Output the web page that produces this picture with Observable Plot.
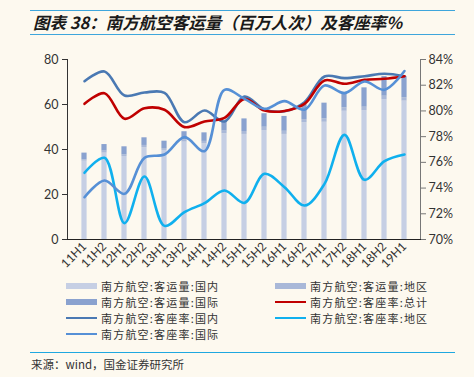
<!DOCTYPE html>
<html><head><meta charset="utf-8">
<script src="https://cdn.jsdelivr.net/npm/d3@7"></script>
<script src="https://cdn.jsdelivr.net/npm/@observablehq/plot@0.6"></script>
<style>
html,body{margin:0;padding:0;background:#fdf9ef;}
#wrap{position:relative;width:474px;height:377px;background:#fdf9ef;font-family:"Noto Sans CJK SC",sans-serif;overflow:hidden;color:#333;}
.hline{position:absolute;left:30px;width:425px;height:0;border-top:1.5px solid #3ea6dc;}
#title{position:absolute;left:33px;top:10px;font-size:16.5px;font-weight:bold;font-style:italic;color:#1a1a1a;line-height:24px;white-space:nowrap;}
#chart{position:absolute;left:0;top:40px;}
#legend{position:absolute;left:0;top:279px;width:474px;}
.li{position:absolute;font-size:11px;letter-spacing:1.2px;line-height:14px;height:14px;white-space:nowrap;color:#333;}
.sw{position:absolute;left:0;width:31px;}
#src{position:absolute;left:31px;top:356px;font-size:11.5px;color:#333;white-space:nowrap;}
</style></head>
<body>
<div id="wrap">
  <div class="hline" style="top:10px"></div>
  <div id="title">图表 38：南方航空客运量（百万人次）及客座率%</div>
  <div class="hline" style="top:34px"></div>
  <div id="chart"></div>
  <div id="legend"></div>
  <div class="hline" style="top:352px;border-top-color:#1fa8e0"></div>
  <div id="src">来源：wind，国金证券研究所</div>
</div>
<script>
const categories = ["11H1","11H2","12H1","12H2","13H1","13H2","14H1","14H2","15H1","15H2","16H1","16H2","17H1","17H2","18H1","18H2","19H1"];
// passengers (million)
const domestic      = [34.8,38.4,36.9,40.8,39.6,43.3,42.5,47.0,46.7,48.4,46.7,51.9,52.1,57.0,57.3,62.2,61.5];
const regional      = [0.6,0.9,0.7,1.0,0.8,1.0,1.1,1.2,1.3,1.5,1.4,1.4,1.5,1.5,1.5,1.5,1.5];
const international = [3.0,2.9,3.6,3.4,3.3,3.6,3.8,4.4,5.6,6.0,6.6,6.6,7.0,7.0,8.6,8.7,9.4];
// load factors (%)
const rateTotal    = [80.55,81.38,79.39,80.21,80.09,78.74,79.18,79.46,80.94,80.03,80.00,80.55,82.37,82.11,82.42,82.50,82.70];
const rateDomestic = [82.31,83.07,81.20,81.43,81.41,79.12,80.03,79.18,81.12,80.10,79.98,80.68,82.68,82.55,82.70,82.89,82.70];
const rateRegional = [75.19,76.35,71.27,74.90,71.06,72.13,72.83,73.81,72.85,75.11,74.07,72.64,74.33,78.14,74.64,76.09,76.61];
const rateIntl     = [73.29,74.59,73.55,76.35,76.61,77.96,76.87,81.64,80.94,80.16,80.76,80.10,81.98,81.38,82.29,81.64,83.10];
const leftTicks  = [0,20,40,60,80];
const rightTicks = [70,72,74,76,78,80,82,84];
const seriesNames = ["南方航空:客运量:国内","南方航空:客运量:地区","南方航空:客运量:国际","南方航空:客座率:总计","南方航空:客座率:国内","南方航空:客座率:地区","南方航空:客座率:国际"];

const barColors = ["#c6cfe4","#a9b8d8","#8aa2cf"];
const lineColors = {total:"#c00000", dom:"#4a79b3", reg:"#10b0ee", intl:"#5690d6"};

const toLeft = p => (p - 70) / 14 * 80;

const rows = [];
categories.forEach((c,i)=>{
  rows.push({cat:c, type:"国内", value:domestic[i]});
  rows.push({cat:c, type:"地区", value:regional[i]});
  rows.push({cat:c, type:"国际", value:international[i]});
});

function lineMark(arr, color){
  return Plot.line(categories, {x: d=>d, y: (d,i)=>toLeft(arr[i]), stroke: color, strokeWidth: 2.6, curve: "catmull-rom"});
}

const plot = Plot.plot({
  width: 474, height: 239,
  marginTop: 19, marginBottom: 40, marginLeft: 67, marginRight: 54,
  style: {background: "transparent", fontFamily: "Lato, 'Noto Sans', sans-serif", fontSize: "12px", color: "#333"},
  x: {domain: categories, padding: 0, label: null},
  y: {domain: [0, 80], label: null},
  color: {domain: ["国内","地区","国际"], range: barColors},
  marks: [
    Plot.barY(rows, {x: "cat", y: "value", fill: "type", insetLeft: 7.4, insetRight: 7.4}),
    lineMark(rateDomestic, lineColors.dom),
    lineMark(rateTotal, lineColors.total),
    lineMark(rateRegional, lineColors.reg),
    lineMark(rateIntl, lineColors.intl),
    Plot.axisY({ticks: leftTicks, anchor: "left", tickSize: 5, tickPadding: 4, stroke: "#333", fontSize: 12.5, label: null}),
    Plot.axisY(rightTicks.map(toLeft), {anchor: "right", tickSize: 5, tickPadding: 3, stroke: "#777", fontSize: 12.5, tickFormat: d => Math.round(d / 80 * 14 + 70) + "%", label: null}),
    Plot.axisX({tickRotate: -45, tickSize: 0, tickPadding: 5, fontSize: 12, label: null}),
    Plot.frame({anchor: "left", stroke: "#333"}),
    Plot.frame({anchor: "right", stroke: "#777"}),
    Plot.frame({anchor: "bottom", stroke: "#222"})
  ]
});
document.getElementById("chart").appendChild(plot);

// legend
const legendItems = [
  {name: seriesNames[0], color: barColors[0], w: 6, col: 0, row: 0},
  {name: seriesNames[1], color: barColors[1], w: 6, col: 1, row: 0},
  {name: seriesNames[2], color: barColors[2], w: 6, col: 0, row: 1},
  {name: seriesNames[3], color: lineColors.total, w: 2.5, col: 1, row: 1},
  {name: seriesNames[4], color: lineColors.dom, w: 2.5, col: 0, row: 2},
  {name: seriesNames[5], color: lineColors.reg, w: 2.5, col: 1, row: 2},
  {name: seriesNames[6], color: lineColors.intl, w: 2.5, col: 0, row: 3}
];
const lg = document.getElementById("legend");
legendItems.forEach(it=>{
  const d = document.createElement("div");
  d.className = "li";
  d.style.left = (it.col ? 275 : 66) + "px";
  d.style.top = (it.row * 16) + "px";
  d.style.paddingLeft = "35px";
  const s = document.createElement("div");
  s.className = "sw";
  s.style.height = it.w + "px";
  s.style.top = (7 - it.w/2) + "px";
  s.style.background = it.color;
  d.appendChild(s);
  d.appendChild(document.createTextNode(it.name));
  lg.appendChild(d);
});
</script>
</body></html>
